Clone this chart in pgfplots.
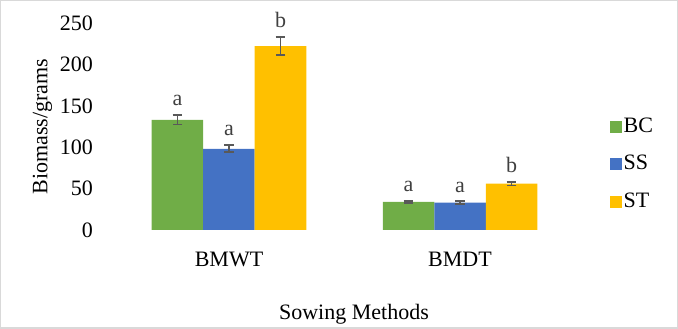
\documentclass[border=0pt]{standalone}
\usepackage{fontspec}
\setmainfont{Liberation Serif}
\usepackage{pgfplots}
\pgfplotsset{compat=1.18}
\definecolor{bcgreen}{HTML}{70AD47}
\definecolor{ssblue}{HTML}{4472C4}
\definecolor{stgold}{HTML}{FFC000}
\definecolor{errgray}{HTML}{595959}
\definecolor{lblgray}{HTML}{404040}
\definecolor{bordergray}{HTML}{D9D9D9}
\pgfplotsset{
  errstyle/.style={error bars/y dir=both, error bars/y explicit,
    error bars/error bar style={draw=errgray, line width=1.9pt},
    error bars/error mark options={rotate=90, mark size=4.8pt, draw=errgray, line width=1.9pt}},
  lblstyle/.style={draw=none, fill=none, forget plot, nodes near coords,
    point meta=explicit symbolic,
    every node near coord/.append style={anchor=south, inner sep=0pt, yshift=9pt, text=lblgray}},
}
\begin{document}
\fontsize{22pt}{26pt}\selectfont
\begin{tikzpicture}
\useasboundingbox (-113.5pt,-99pt) rectangle (564.5pt,230pt);
\draw[bordergray, line width=1.5pt] (-112.75pt,-98.25pt) rectangle (563.75pt,229.25pt);
\begin{axis}[
  width=462pt, height=207pt, scale only axis,
  xmin=-0.5, xmax=1.5, ymin=0, ymax=250,
  clip=false,
  ybar=0pt, bar width=51.5pt,
  axis line style={draw=none}, tick style={draw=none},
  xtick={0,1}, xticklabels={BMWT,BMDT},
  ytick={0,50,...,250},
  /pgf/number format/assume math mode=true,
  yticklabel style={anchor=east, inner sep=0pt, xshift=-20.5pt},
  xticklabel style={anchor=north, inner sep=0pt, yshift=-18pt},
  xlabel={Sowing Methods}, ylabel={Biomass/grams},
  every axis x label/.style={at={(rel axis cs:0.5,0)}, anchor=north, inner sep=0pt, yshift=-74pt, xshift=9.5pt},
  every axis y label/.style={at={(rel axis cs:0,0.5)}, xshift=-71pt, rotate=90, anchor=center, inner sep=0pt},
  legend style={at={(rel axis cs:1,0.318)}, anchor=west, xshift=34pt, draw=none, fill=none, inner sep=0pt, row sep=15.5pt,
    /tikz/every even column/.append style={column sep=2pt}},
  legend cell align=left,
]
\addplot[fill=bcgreen, draw=none, bar shift=-51.5pt, errstyle,
  legend image code/.code={\fill[bcgreen] (0pt,-6pt) rectangle (12pt,6pt);}]
  coordinates {(0,133) +- (0,5.6) (1,34) +- (0,1.5)};
\addlegendentry{BC}
\addplot[fill=ssblue, draw=none, bar shift=0pt, errstyle,
  legend image code/.code={\fill[ssblue] (0pt,-6pt) rectangle (12pt,6pt);}]
  coordinates {(0,98) +- (0,4.2) (1,33) +- (0,1.5)};
\addlegendentry{SS}
\addplot[fill=stgold, draw=none, bar shift=51.5pt, errstyle,
  legend image code/.code={\fill[stgold] (0pt,-6pt) rectangle (12pt,6pt);}]
  coordinates {(0,222) +- (0,11) (1,56) +- (0,2.2)};
\addlegendentry{ST}
\addplot[lblstyle, bar shift=-51.5pt] coordinates {(0,138.6) [a] (1,35.5) [a]};
\addplot[lblstyle, bar shift=0pt] coordinates {(0,102.2) [a] (1,34.5) [a]};
\addplot[lblstyle, bar shift=51.5pt] coordinates {(0,233) [b] (1,58.2) [b]};
\end{axis}
\end{tikzpicture}
\end{document}
